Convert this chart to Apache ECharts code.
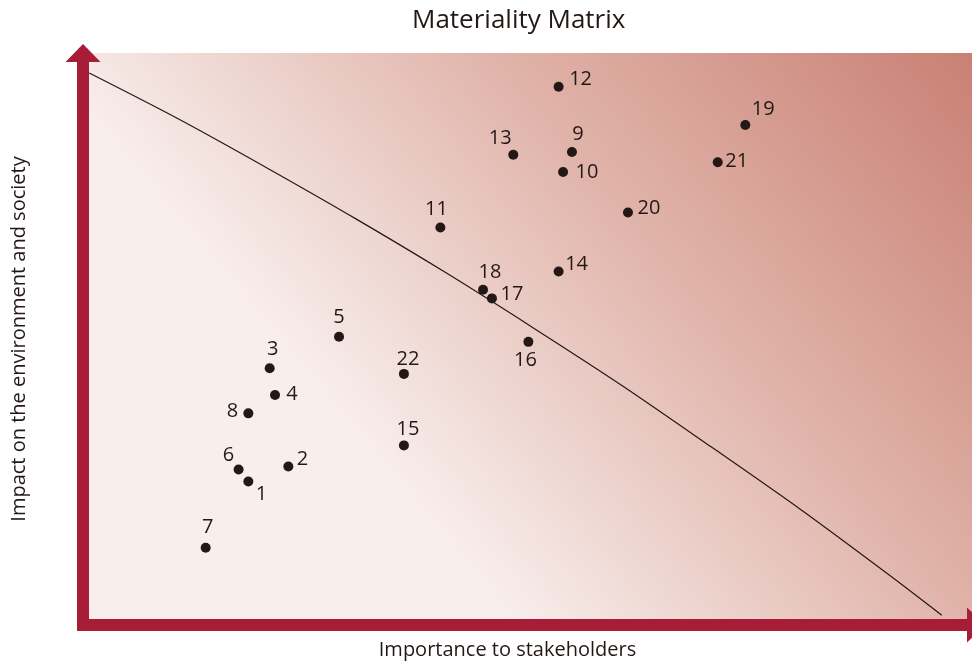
<!DOCTYPE html>
<html>
<head>
<meta charset="utf-8">
<title>Materiality Matrix</title>
<script src="https://cdn.jsdelivr.net/npm/echarts@6/dist/echarts.min.js"></script>
<style>
  html, body {
    margin: 0;
    padding: 0;
    background: #fff;
  }
  #chart {
    width: 972px;
    height: 664px;
  }
</style>
</head>
<body>
<div id="chart"></div>
<script>
// topic numbers and where they sit in the matrix
const topics = ['1', '2', '3', '4', '5', '6', '7', '8', '9', '10', '11',
  '12', '13', '14', '15', '16', '17', '18', '19', '20', '21', '22']
const importance = [18.6, 23.1, 21.0, 21.6, 28.8, 17.5, 13.8, 18.6, 55.0, 54.0, 40.2,
  53.5, 48.4, 53.5, 36.1, 50.1, 46.0, 45.0, 74.5, 61.3, 71.4, 36.1]
const impact = [25.1, 27.7, 44.9, 40.2, 50.4, 27.2, 13.5, 37.0, 82.7, 79.2, 69.5,
  94.1, 82.2, 61.8, 31.4, 49.5, 57.1, 58.6, 87.4, 72.1, 80.9, 43.9]

// threshold curve
const curveX = [0.7, 10.7, 20.7, 30.7, 40.7, 50.7, 60.7, 70.7, 80.8, 90.8, 96.6]
const curveY = [96.5, 88.5, 79.9, 71.0, 61.7, 51.9, 41.8, 31.1, 20.1, 8.6, 1.7]

// where each number sits relative to its dot (px)
const labelOffsets = [
  [13, 13], [14, -7], [3, -19], [17, -1], [0, -19], [-10, -14], [2, -20], [-16, -2],
  [6, -18], [24, 0], [-4, -18], [22, -7], [-13, -17], [18, -7], [4, -16], [-3, 18],
  [20, -4], [7, -18], [18, -16], [21, -4], [19, -1], [4, -15]
]

const ink = '#231815'
const axisRed = '#a71d37'
const font = '"Open Sans", sans-serif'

const chart = echarts.init(document.getElementById('chart'))

const points = topics.map((name, i) => ({
  name,
  value: [importance[i], impact[i]],
  label: { offset: labelOffsets[i] }
}))

const option = {
  animation: false,
  title: {
    text: 'Materiality Matrix',
    left: 407,
    top: 3,
    textStyle: { color: ink, fontSize: 26, fontWeight: 'normal', fontFamily: font }
  },
  grid: {
    left: 83,
    right: 0,
    top: 53,
    bottom: 39,
    outerBoundsMode: 'none',
    show: true,
    borderWidth: 0,
    backgroundColor: new echarts.graphic.LinearGradient(0.47, 0.97, 1.09, 0.16, [
      { offset: 0, color: '#f8eeec' },
      { offset: 0.49, color: '#e0b3a9' },
      { offset: 1, color: '#c98074' }
    ])
  },
  xAxis: {
    type: 'value',
    min: 0,
    max: 100,
    name: 'Importance to stakeholders',
    nameLocation: 'middle',
    nameGap: 15,
    nameTextStyle: { color: ink, fontSize: 20, fontFamily: font, padding: [0, 40, 0, 0] },
    axisLine: {
      show: true,
      symbol: ['none', 'triangle'],
      symbolSize: [35, 18],
      symbolOffset: [0, 4],
      lineStyle: { color: axisRed, width: 12, cap: 'square' }
    },
    axisTick: { show: false },
    axisLabel: { show: false },
    splitLine: { show: false }
  },
  yAxis: {
    type: 'value',
    min: 0,
    max: 100,
    name: 'Impact on the environment and society',
    nameLocation: 'middle',
    nameGap: 54,
    nameTextStyle: { color: ink, fontSize: 20, fontFamily: font },
    axisLine: {
      show: true,
      symbol: ['none', 'triangle'],
      symbolSize: [35, 18],
      lineStyle: { color: axisRed, width: 12 }
    },
    axisTick: { show: false },
    axisLabel: { show: false },
    splitLine: { show: false }
  },
  series: [
    {
      type: 'line',
      data: curveX.map((x, i) => [x, curveY[i]]),
      smooth: 0.3,
      symbol: 'none',
      lineStyle: { color: ink, width: 1.2 },
      z: 2
    },
    {
      type: 'scatter',
      data: points,
      symbolSize: 10,
      itemStyle: { color: ink, opacity: 1 },
      label: {
        show: true,
        position: 'inside',
        formatter: '{b}',
        color: ink,
        fontSize: 20,
        fontFamily: font
      },
      z: 3
    }
  ]
}

chart.setOption(option)

window.addEventListener('resize', () => {
  chart.resize()
})
</script>
</body>
</html>
